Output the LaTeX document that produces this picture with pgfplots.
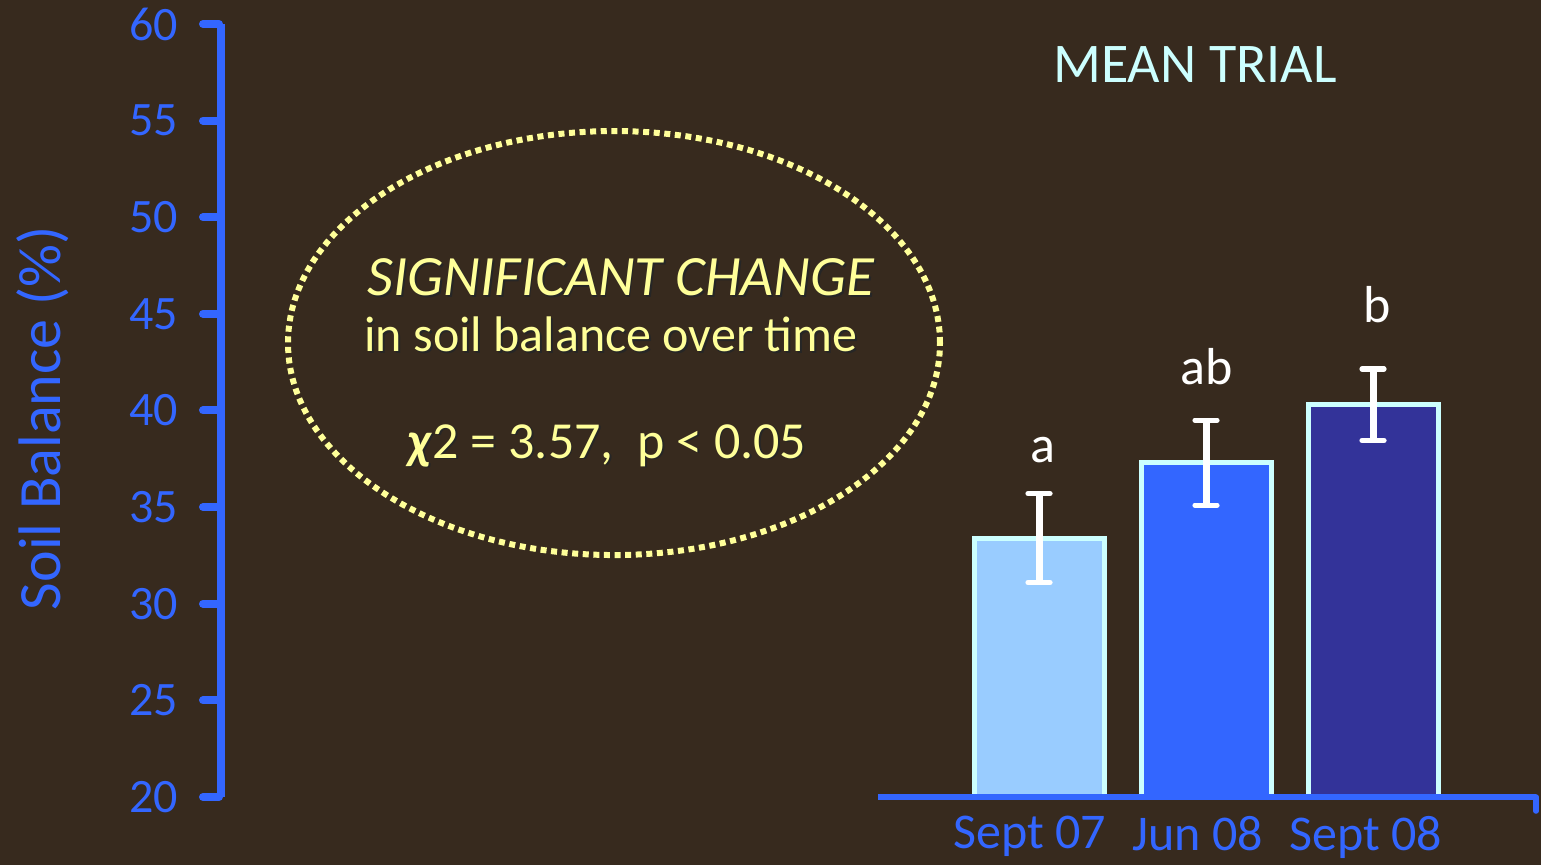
\documentclass[border=0pt]{standalone}
\usepackage{pgfplots}
\pgfplotsset{compat=1.18}
\usepackage{fontspec}
\setmainfont{Carlito}
\definecolor{bg}{HTML}{372A1E}
\definecolor{axblue}{HTML}{3366FF}
\definecolor{barlight}{HTML}{99CCFF}
\definecolor{bardark}{HTML}{333399}
\definecolor{edge}{HTML}{CCFFFF}
\definecolor{note}{HTML}{FFFF99}

\newcommand{\shtext}[3][]{%
  \node[anchor=base, text=black!85, #1] at ([xshift=0.9pt,yshift=-0.9pt]#2) {#3};
  \node[anchor=base, text=note, #1] at (#2) {#3};
}

\begin{document}
\begin{tikzpicture}
\fill[bg] (-109.5pt,-34pt) rectangle (661pt,398.5pt);
\begin{axis}[
    scale only axis, width=659.5pt, height=386.5pt,
    xmin=219, xmax=1538, ymin=20, ymax=60,
    axis y line*=left, axis x line*=bottom,
    y axis line style={draw=none},
    x axis line style={draw=none},
    ytick={20,25,...,60},
    xtick={1030,1198,1366},
    xticklabels={Sept 07,Jun 08,Sept 08},
    tick align=outside, major tick length=8pt,
    every tick/.style={axblue, line width=4pt, line cap=round},
    xtick style={draw=none},
    yticklabel style={font=\fontsize{24}{26}\selectfont, text=axblue, xshift=-9pt},
    xticklabel style={font=\fontsize{25}{28}\selectfont, text=axblue, yshift=2pt},
    /pgf/number format/assume math mode=true,
    ylabel={Soil Balance (\%)},
    ylabel style={at={(axis description cs:-0.1334,0.49)}, anchor=center,
                  font=\fontsize{30}{33}\selectfont, text=axblue},
    clip mode=individual,
    ybar, bar width=130,
    error bars/y dir=both, error bars/y explicit,
    error bars/error bar style={white, line width=3.5pt},
    error bars/error mark options={rotate=90, white, mark size=5.5pt, line width=2.6pt, line cap=round},
]
\addplot[fill=barlight, draw=edge, line width=2.5pt, bar shift=0pt]
  coordinates {(1039,33.4) +- (0,2.3)};
\addplot[fill=axblue, draw=edge, line width=2.5pt, bar shift=0pt]
  coordinates {(1206,37.3) +- (0,2.2)};
\addplot[fill=bardark, draw=edge, line width=2.5pt, bar shift=0pt]
  coordinates {(1373,40.3) +- (0,1.85)};

% axis lines
\draw[axblue, line width=4pt] (axis cs:221,20) -- (axis cs:221,60);
\draw[axblue, line width=2.8pt] (axis cs:878,20) -- (axis cs:1536,20);
\draw[axblue, line width=2.8pt, line cap=round] (axis cs:1536,20) -- ([yshift=-7pt]axis cs:1536,20);

% group letters
\node[font=\fontsize{26}{30}\selectfont, text=white, anchor=base] at (axis cs:1043,37.33) {a};
\node[font=\fontsize{26}{30}\selectfont, text=white, anchor=base] at (axis cs:1207,41.32) {ab};
\node[font=\fontsize{26}{30}\selectfont, text=white, anchor=base] at (axis cs:1377,44.53) {b};

\node[font=\fontsize{28}{32}\selectfont, text=edge, anchor=base] at (axis cs:1195,56.95) {MEAN TRIAL};

% significance note
\draw[note, line width=3pt, dash pattern=on 3pt off 2.3pt]
  (axis cs:614,43.49) ellipse [x radius=163pt, y radius=106pt];
\shtext[font=\fontsize{28.5}{32}\selectfont]{axis cs:621,45.93}{\itshape SIGNIFICANT CHANGE}
\shtext[font=\fontsize{25}{30}\selectfont]{axis cs:611,43.03}{in soil balance over time}
\shtext[font=\fontsize{26}{30}\selectfont]{axis cs:607,37.54}{\textbf{\textit{χ}}2 = 3.57,\ \ p < 0.05}
\end{axis}
\pgfresetboundingbox
\useasboundingbox (-109.5pt,-34pt) rectangle (661pt,398.5pt);
\end{tikzpicture}
\end{document}
